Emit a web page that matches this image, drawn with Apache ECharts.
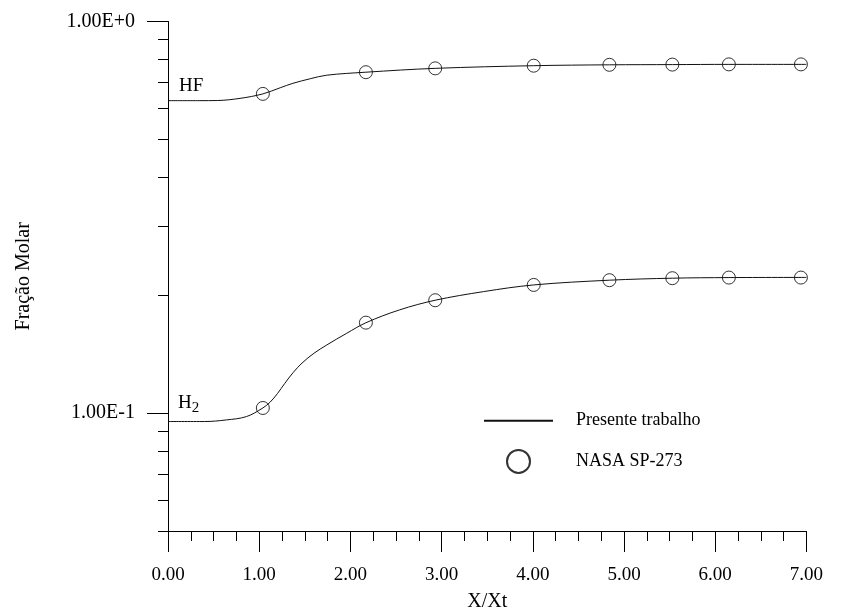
<!DOCTYPE html>
<html>
<head>
<meta charset="utf-8">
<script src="https://cdn.jsdelivr.net/npm/echarts@6/dist/echarts.min.js"></script>
<style>
html,body{margin:0;padding:0;background:#fff;}
#chart{width:854px;height:614px;}
</style>
</head>
<body>
<div id="chart"></div>
<script>
// ---- data ----
const xTickValues = [0, 1, 2, 3, 4, 5, 6, 7];
const yMajorTicks = [0.1, 1];
const yMinorTicks = [0.05, 0.06, 0.07, 0.08, 0.09, 0.2, 0.3, 0.4, 0.5, 0.6, 0.7, 0.8, 0.9];

// Presente trabalho (curves)
const hfLineX = [0, 0.35, 0.54, 0.79, 1.04, 1.23, 1.37, 1.56, 1.74, 2.17, 2.93, 4.01, 4.84, 5.53, 6.15, 7.0];
const hfLineY = [0.6285, 0.6285, 0.629, 0.637, 0.654, 0.678, 0.696, 0.715, 0.730, 0.743, 0.760, 0.772, 0.776, 0.777, 0.778, 0.778];
const h2LineX = [0, 0.4, 0.64, 0.86, 1.04, 1.12, 1.2, 1.28, 1.37, 1.47, 1.6, 1.74, 1.96, 2.17, 2.54, 2.93, 3.46, 4.01, 4.84, 5.53, 6.15, 7.0];
const h2LineY = [0.0952, 0.0952, 0.0961, 0.0980, 0.1031, 0.1067, 0.1122, 0.1191, 0.1268, 0.1343, 0.1422, 0.1493, 0.1600, 0.1702, 0.1836, 0.1943, 0.2044, 0.2126, 0.2186, 0.2212, 0.2220, 0.2222];

// NASA SP-273 (points)
const nasaX = [1.04, 2.17, 2.93, 4.01, 4.84, 5.53, 6.15, 6.94];
const hfNasaY = [0.654, 0.743, 0.760, 0.772, 0.776, 0.777, 0.778, 0.778];
const h2NasaY = [0.1031, 0.1703, 0.1943, 0.2126, 0.2186, 0.2212, 0.2220, 0.2220];

const zip = (a, b) => a.map((v, i) => [v, b[i]]);
const FONT = 'Liberation Serif';
const INK = '#000';

const chart = echarts.init(document.getElementById('chart'), null, {renderer: 'canvas'});

const yBase = {
  type: 'log', logBase: 10, min: 0.05, max: 1,
  gridIndex: 0, position: 'left',
  splitLine: {show: false}, minorTick: {show: false}, minorSplitLine: {show: false},
  axisLine: {show: true, lineStyle: {color: INK, width: 1}}
};

const lineStyle = {color: '#111', width: 1};
const scatterStyle = {color: 'rgba(0,0,0,0)', borderColor: '#000', borderWidth: 1};

const option = {
  backgroundColor: '#fff',
  animation: false,
  textStyle: {fontFamily: FONT, color: INK},
  grid: {left: 168, right: 47.6, top: 21.7, bottom: 83, containLabel: false, outerBoundsMode: 'none'},
  legend: {
    left: 483, top: 411.5, orient: 'vertical', padding: 0,
    itemWidth: 69, itemHeight: 23, itemGap: 19,
    data: [
      {name: 'Presente trabalho', itemStyle: {color: 'rgba(0,0,0,0)', borderColor: 'rgba(0,0,0,0)', borderWidth: 0}},
      {name: 'NASA SP-273'}
    ],
    textStyle: {fontFamily: FONT, fontSize: 18, color: INK, padding: [0, 0, 0, 18]}
  },
  xAxis: {
    type: 'value', min: 0, max: 7, interval: 1,
    name: 'X/Xt', nameLocation: 'middle', nameGap: 61,
    nameTextStyle: {fontFamily: FONT, fontSize: 20, color: INK},
    axisLine: {show: true, onZero: false, lineStyle: {color: INK, width: 1}},
    axisTick: {show: true, length: 21, lineStyle: {color: INK, width: 1}},
    minorTick: {show: true, splitNumber: 4, length: 10, lineStyle: {color: INK, width: 1}},
    splitLine: {show: false},
    axisLabel: {fontFamily: FONT, fontSize: 19, color: INK, margin: 35,
      formatter: v => v.toFixed(2)}
  },
  yAxis: [
    Object.assign({}, yBase, {
      axisTick: {show: true, length: 10, customValues: yMinorTicks, lineStyle: {color: INK, width: 1}},
      axisLabel: {show: false}
    }),
    Object.assign({}, yBase, {
      name: 'Fração Molar', nameLocation: 'middle', nameGap: 134,
      nameTextStyle: {fontFamily: FONT, fontSize: 20, color: INK},
      axisTick: {show: true, length: 21, customValues: yMajorTicks, lineStyle: {color: INK, width: 1}},
      axisLabel: {show: true, customValues: yMajorTicks, margin: 33,
        fontFamily: FONT, fontSize: 20, color: INK,
        formatter: v => Number(v).toExponential(2).toUpperCase()}
    })
  ],
  series: [
    {
      name: 'Presente trabalho', type: 'line', yAxisIndex: 0,
      data: zip(hfLineX, hfLineY), smooth: 0.35,
      symbol: 'none', lineStyle: lineStyle, itemStyle: {color: '#111'},
      markPoint: {
        symbol: 'circle', symbolSize: 0, silent: true,
        label: {show: true, position: 'right', distance: 0, fontFamily: FONT, fontSize: 19, color: INK, formatter: 'HF'},
        data: [{coord: [0.12, 0.685], value: 'HF'}]
      }
    },
    {
      name: 'Presente trabalho', type: 'line', yAxisIndex: 0,
      data: zip(h2LineX, h2LineY), smooth: 0.35,
      symbol: 'none', lineStyle: lineStyle, itemStyle: {color: '#111'},
      markPoint: {
        symbol: 'circle', symbolSize: 0, silent: true,
        label: {show: true, position: 'right', distance: 0, color: INK,
          formatter: '{h|H}{s|2}',
          rich: {h: {fontFamily: FONT, fontSize: 19, color: INK}, s: {fontFamily: FONT, fontSize: 15, color: INK, verticalAlign: 'bottom', padding: [10, 0, 0, 0]}}},
        data: [{coord: [0.11, 0.1062], value: 'H2'}]
      }
    },
    {
      name: 'NASA SP-273', type: 'scatter', yAxisIndex: 0,
      data: zip(nasaX, hfNasaY), symbol: 'circle', symbolSize: 13,
      itemStyle: scatterStyle
    },
    {
      name: 'NASA SP-273', type: 'scatter', yAxisIndex: 0,
      data: zip(nasaX, h2NasaY), symbol: 'circle', symbolSize: 13,
      itemStyle: scatterStyle
    }
  ]
};

chart.setOption(option);
</script>
</body>
</html>
